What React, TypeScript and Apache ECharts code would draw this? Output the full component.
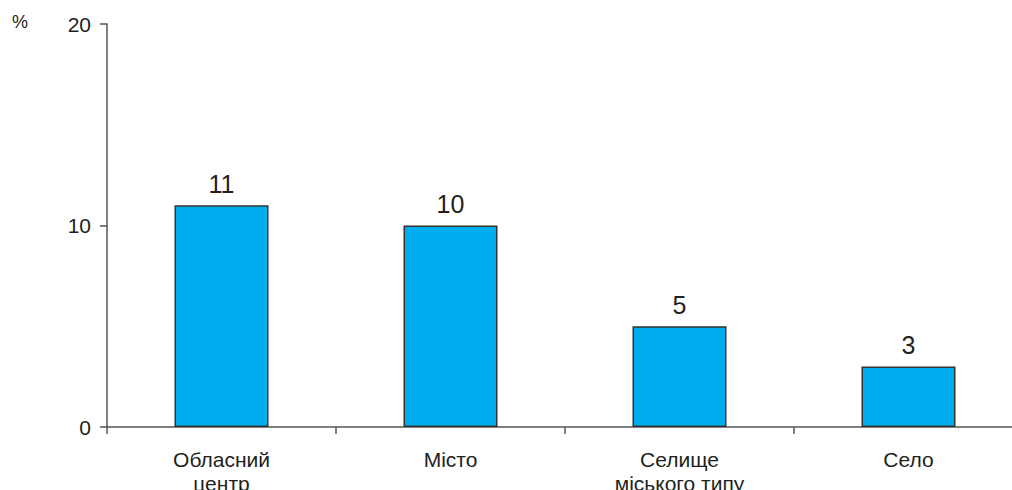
import React, { useEffect, useRef } from "react";
import * as echarts from "echarts";

const categories = ["Обласний\nцентр", "Місто", "Селище\nміського типу", "Село"];
const values = [11, 10, 5, 3];
const yTicks = [0, 10, 20];

const FONT = "Liberation Sans, Arial, sans-serif";

export default function App() {
  const ref = useRef<HTMLDivElement>(null);
  useEffect(() => {
    const chart = echarts.init(ref.current!, null, { renderer: "svg" });
    chart.setOption({
      animation: false,
      textStyle: { fontFamily: FONT },
      grid: { left: 107, width: 916, top: 24, bottom: 63, containLabel: false, outerBoundsMode: "none" },
      graphic: [
        {
          type: "text",
          left: 12,
          top: 13,
          style: { text: "%", fontSize: 18, fill: "#231f20", fontFamily: FONT },
        },
      ],
      xAxis: {
        type: "category",
        data: categories,
        axisLine: { lineStyle: { color: "#555", width: 1.5 } },
        axisTick: { show: true, length: 7, alignWithLabel: false, lineStyle: { color: "#555", width: 1.5 } },
        axisLabel: { fontSize: 21, color: "#231f20", margin: 20, lineHeight: 24 },
      },
      yAxis: {
        type: "value",
        min: yTicks[0],
        max: yTicks[yTicks.length - 1],
        interval: 10,
        splitLine: { show: false },
        axisLine: { show: true, lineStyle: { color: "#555", width: 1.5 } },
        axisTick: { show: true, length: 7, lineStyle: { color: "#555", width: 1.5 } },
        axisLabel: { fontSize: 21, color: "#231f20", margin: 16 },
      },
      series: [
        {
          type: "bar",
          data: values,
          barWidth: 94,
          itemStyle: { color: "#00aeef", borderColor: "#333", borderWidth: 1.5 },
          label: { show: true, position: "top", fontSize: 25, color: "#231f20", distance: 9 },
        },
      ],
    });
    return () => chart.dispose();
  }, []);
  return <div ref={ref} style={{ width: 1012, height: 490, position: "absolute", left: 0, top: 0 }} />;
}
